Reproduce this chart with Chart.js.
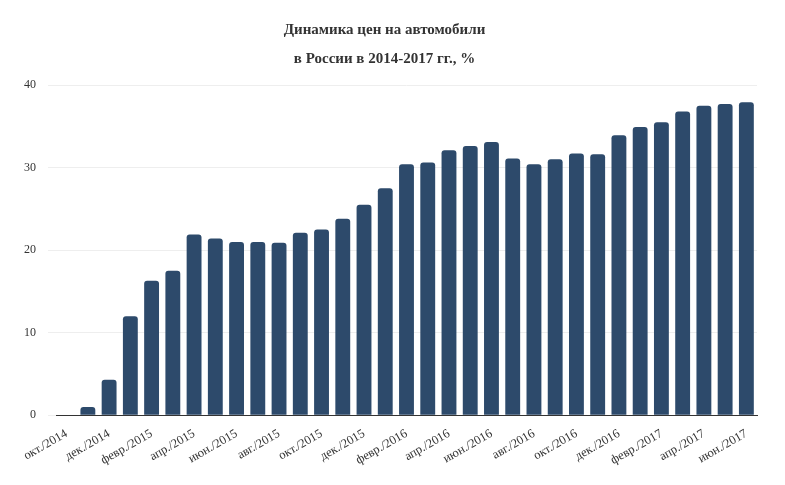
<!DOCTYPE html>
<html><head><meta charset="utf-8">
<script src="https://cdn.jsdelivr.net/npm/chart.js@4"></script>
<style>body{margin:0;background:#fff}#w{width:785px;height:485px}</style>
</head><body><div id="w"><canvas id="c"></canvas></div>
<script>
const categories = ["окт./2014","нояб./2014","дек./2014","янв./2015","февр./2015","март/2015","апр./2015","май/2015","июн./2015","июл./2015","авг./2015","сент./2015","окт./2015","нояб./2015","дек./2015","янв./2016","февр./2016","март/2016","апр./2016","май/2016","июн./2016","июл./2016","авг./2016","сент./2016","окт./2016","нояб./2016","дек./2016","янв./2017","февр./2017","март/2017","апр./2017","май/2017","июн./2017"];
const values = [0,1.0,4.3,12.0,16.3,17.5,21.9,21.4,21.0,21.0,20.9,22.1,22.5,23.8,25.5,27.5,30.4,30.6,32.1,32.6,33.1,31.1,30.4,31.0,31.7,31.6,33.9,34.9,35.5,36.8,37.5,37.7,37.9];
const yTicks = [0,10,20,30,40];
new Chart(document.getElementById('c'),{
 type:'bar',
 data:{labels:categories,datasets:[{data:values,backgroundColor:'#2d4a6b',borderRadius:{topLeft:3,topRight:3},borderSkipped:'bottom',categoryPercentage:1,barPercentage:0.7}]},
 options:{responsive:true,maintainAspectRatio:false,animation:false,
  layout:{padding:{left:12,right:28,top:8,bottom:14}},
  plugins:{legend:{display:false},tooltip:{enabled:false},
   title:{display:true,text:['Динамика цен на автомобили','в России в 2014-2017 гг., %'],color:'#333',font:{family:'Liberation Serif',size:15,weight:'bold',lineHeight:1.9},padding:{top:8,bottom:12}}},
  scales:{
   x:{grid:{display:false},border:{color:'#333'},ticks:{color:'#333',font:{family:'Liberation Serif',size:12.5},maxRotation:30,minRotation:30,autoSkip:false,callback:function(v,i){return i%2===0?categories[i]:'';}}},
   y:{min:0,max:40,afterBuildTicks:a=>{a.ticks=yTicks.map(v=>({value:v}));},grid:{color:'#eee'},border:{display:false},ticks:{color:'#333',font:{family:'Liberation Serif',size:12},padding:12}}
  }}
});
</script></body></html>
